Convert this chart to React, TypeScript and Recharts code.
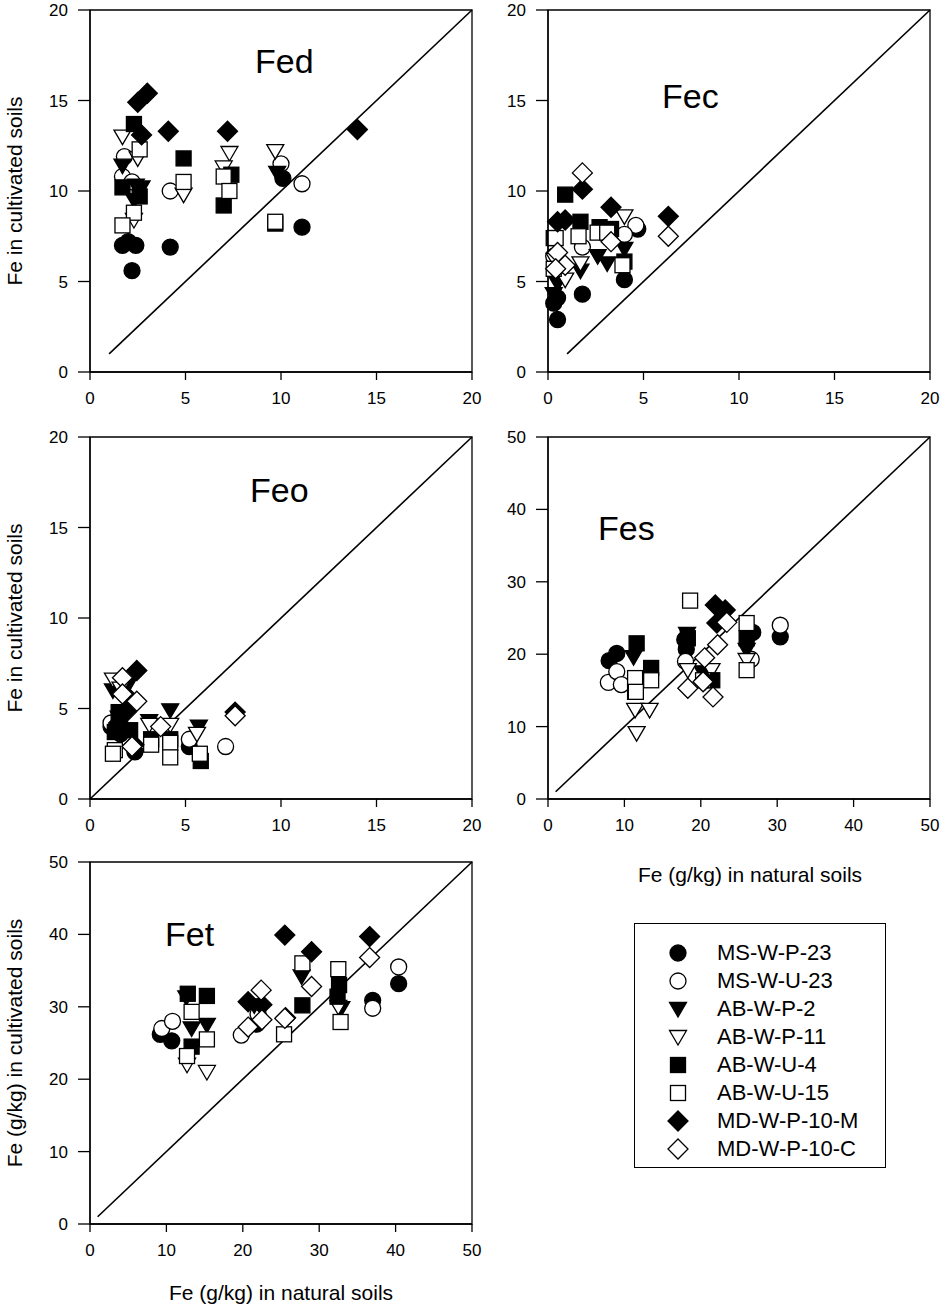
import React from 'react';
import { ScatterChart, Scatter, XAxis, YAxis, ReferenceLine, ReferenceArea } from 'recharts';

type XY = [number, number];

// series order (also draw order): MS-W-P-23, MS-W-U-23, AB-W-P-2, AB-W-P-11, AB-W-U-4, AB-W-U-15, MD-W-P-10-M, MD-W-P-10-C
const seriesNames = ['MS-W-P-23', 'MS-W-U-23', 'AB-W-P-2', 'AB-W-P-11', 'AB-W-U-4', 'AB-W-U-15', 'MD-W-P-10-M', 'MD-W-P-10-C'];
const seriesKinds = ['circle', 'circle', 'triangle', 'triangle', 'square', 'square', 'diamond', 'diamond'];
const seriesFilled = [true, false, true, false, true, false, true, false];

const ticks20 = [0, 5, 10, 15, 20];
const ticks50 = [0, 10, 20, 30, 40, 50];

// --- Fed
const fedMSWP23: XY[] = [[1.7, 7.0], [2.0, 7.2], [2.4, 7.0], [2.2, 5.6], [4.2, 6.9], [10.1, 10.7], [11.1, 8.0]];
const fedMSWU23: XY[] = [[1.8, 11.9], [1.7, 10.8], [2.2, 10.5], [4.2, 10.0], [10.0, 11.5], [11.1, 10.4]];
const fedABWP2: XY[] = [[1.7, 11.4], [2.4, 10.3], [2.3, 9.5], [2.7, 10.2], [7.3, 10.9], [9.8, 11.0]];
const fedABWP11: XY[] = [[1.7, 13.0], [2.5, 11.8], [2.3, 8.4], [4.9, 9.8], [7.3, 12.1], [7.0, 11.3], [9.7, 12.2]];
const fedABWU4: XY[] = [[2.3, 13.7], [1.7, 10.2], [2.6, 9.7], [4.9, 11.8], [7.0, 9.2], [7.4, 10.9], [9.7, 8.2]];
const fedABWU15: XY[] = [[2.6, 12.3], [2.3, 8.8], [1.7, 8.1], [4.9, 10.5], [7.0, 10.8], [7.3, 10.0], [9.7, 8.3]];
const fedMDWP10M: XY[] = [[3.0, 15.4], [2.5, 14.9], [2.7, 13.1], [4.1, 13.3], [7.2, 13.3], [14.0, 13.4]];
const fedMDWP10C: XY[] = [];

// --- Fec
const fecMSWP23: XY[] = [[4.0, 5.1], [1.8, 4.3], [0.5, 4.1], [0.5, 2.9], [4.7, 7.9], [0.3, 3.8]];
const fecMSWU23: XY[] = [[4.6, 8.1], [4.0, 7.6], [1.8, 6.9], [0.3, 6.4]];
const fecABWP2: XY[] = [[2.6, 6.4], [3.1, 6.0], [4.0, 6.8], [1.7, 5.6], [0.5, 4.9], [0.3, 4.3]];
const fecABWP11: XY[] = [[4.0, 8.6], [1.7, 6.0], [0.9, 5.1], [0.35, 6.2]];
const fecABWU4: XY[] = [[0.9, 9.8], [1.7, 8.3], [2.7, 8.0], [3.3, 7.9], [4.0, 6.1], [0.3, 7.4]];
const fecABWU15: XY[] = [[1.6, 7.5], [2.6, 7.7], [3.1, 7.7], [3.9, 5.9], [0.4, 7.4], [0.3, 5.7]];
const fecMDWP10M: XY[] = [[1.8, 10.1], [3.3, 9.1], [6.3, 8.6], [0.5, 8.3], [0.9, 8.4]];
const fecMDWP10C: XY[] = [[1.8, 11.0], [6.3, 7.5], [3.3, 7.2], [0.5, 6.6], [0.9, 5.9], [0.4, 5.7]];

// --- Feo
const feoMSWP23: XY[] = [[2.35, 2.6], [5.2, 2.9], [1.1, 4.0], [1.6, 3.6]];
const feoMSWU23: XY[] = [[1.1, 4.2], [5.2, 3.3], [7.1, 2.9], [1.5, 3.9]];
const feoABWP2: XY[] = [[1.2, 6.0], [1.5, 4.5], [3.1, 4.3], [4.2, 4.9], [5.7, 4.0], [2.0, 6.3]];
const feoABWP11: XY[] = [[1.2, 6.6], [1.6, 6.1], [3.1, 4.1], [4.2, 4.1], [5.6, 3.6], [1.5, 3.6]];
const feoABWU4: XY[] = [[1.3, 3.7], [2.1, 3.8], [3.2, 3.3], [4.2, 3.3], [5.8, 2.1], [1.5, 4.8]];
const feoABWU15: XY[] = [[1.3, 2.7], [1.2, 2.5], [3.2, 3.0], [4.2, 3.1], [4.2, 2.3], [5.75, 2.5]];
const feoMDWP10M: XY[] = [[2.45, 7.1], [7.6, 4.8], [1.9, 4.8], [2.1, 5.5], [1.5, 4.2], [2.3, 3.0]];
const feoMDWP10C: XY[] = [[1.7, 6.7], [1.7, 5.8], [2.45, 5.4], [2.2, 2.9], [3.7, 4.0], [7.6, 4.6]];

// --- Fes
const fesMSWP23: XY[] = [[8.0, 19.1], [9.0, 20.1], [18.1, 20.7], [17.9, 22.0], [26.8, 23.0], [30.4, 22.4]];
const fesMSWU23: XY[] = [[7.9, 16.1], [9.0, 17.6], [9.6, 15.8], [18.0, 19.0], [26.6, 19.3], [30.4, 24.0]];
const fesABWP2: XY[] = [[11.2, 19.6], [18.2, 22.8], [26.0, 20.6], [20.2, 17.5]];
const fesABWP11: XY[] = [[11.4, 12.3], [13.3, 12.3], [11.6, 9.1], [18.3, 17.8], [26.0, 19.2], [21.4, 17.8]];
const fesABWU4: XY[] = [[11.6, 21.5], [13.5, 18.1], [18.3, 22.2], [26.0, 22.2], [11.4, 14.8], [21.5, 16.4]];
const fesABWU15: XY[] = [[18.6, 27.4], [11.4, 16.7], [13.5, 16.4], [11.5, 14.8], [26.0, 24.3], [26.0, 17.8], [20.3, 16.4]];
const fesMDWP10M: XY[] = [[21.9, 26.8], [23.2, 26.1], [22.1, 24.3], [20.5, 16.4]];
const fesMDWP10C: XY[] = [[23.4, 24.4], [22.2, 21.3], [20.5, 19.5], [18.3, 15.3], [21.6, 14.1], [20.3, 16.2]];

// --- Fet
const fetMSWP23: XY[] = [[9.2, 26.2], [10.7, 25.3], [21.8, 27.6], [37.0, 30.9], [40.4, 33.2]];
const fetMSWU23: XY[] = [[9.4, 27.0], [10.8, 28.0], [19.8, 26.1], [22.0, 29.0], [37.0, 29.8], [40.4, 35.5]];
const fetABWP2: XY[] = [[12.6, 31.3], [13.3, 27.0], [15.3, 27.5], [27.7, 34.2], [32.9, 29.8], [21.5, 30.2]];
const fetABWP11: XY[] = [[12.7, 22.0], [15.3, 21.0], [32.5, 30.0]];
const fetABWU4: XY[] = [[12.8, 31.8], [15.3, 31.5], [13.3, 24.5], [27.8, 30.2], [32.6, 33.0], [32.4, 31.4]];
const fetABWU15: XY[] = [[13.3, 29.3], [15.3, 25.5], [12.7, 23.2], [25.4, 26.2], [27.8, 36.0], [32.5, 35.2], [32.8, 27.9]];
const fetMDWP10M: XY[] = [[25.5, 39.9], [29.0, 37.6], [36.6, 39.7], [20.7, 30.7], [22.5, 30.3], [25.6, 28.5]];
const fetMDWP10C: XY[] = [[36.6, 36.8], [29.0, 32.8], [22.4, 32.3], [22.5, 28.2], [20.7, 27.2], [25.5, 28.4]];

const FONT = 'Arial, "Liberation Sans", Helvetica, sans-serif';

function Marker({ cx, cy, kind, filled }: { cx: number; cy: number; kind: string; filled: boolean }) {
  const fill = filled ? '#000' : '#fff';
  const common = { fill, stroke: '#000', strokeWidth: 1.3 };
  if (cx == null || cy == null) return null;
  switch (kind) {
    case 'circle':
      return <circle cx={cx} cy={cy} r={8} {...common} />;
    case 'triangle':
      return <polygon points={`${cx - 8.5},${cy - 6.5} ${cx + 8.5},${cy - 6.5} ${cx},${cy + 8}`} {...common} />;
    case 'square':
      return <rect x={cx - 7.5} y={cy - 7.5} width={15} height={15} {...common} />;
    default:
      return <polygon points={`${cx},${cy - 10} ${cx + 10},${cy} ${cx},${cy + 10} ${cx - 10},${cy}`} {...common} />;
  }
}

interface PanelProps {
  left: number;
  top: number;
  max: number;
  ticks: number[];
  lineFrom: number;
  series: XY[][];
}

function Panel({ left, top, max, ticks, lineFrom, series }: PanelProps) {
  const tickStyle = { fill: '#000', fontSize: 17, fontFamily: FONT };
  return (
    <div style={{ position: 'absolute', left, top }}>
      <ScatterChart width={482} height={412} margin={{ top: 10, right: 10, bottom: 0, left: 0 }}>
        <XAxis
          type="number"
          dataKey="x"
          domain={[0, max]}
          ticks={ticks}
          height={40}
          tickSize={8}
          tickMargin={12}
          tick={tickStyle}
          axisLine={{ stroke: '#000', strokeWidth: 1.3 }}
          tickLine={{ stroke: '#000', strokeWidth: 1.3 }}
        />
        <YAxis
          type="number"
          dataKey="y"
          domain={[0, max]}
          ticks={ticks}
          width={90}
          tickSize={12}
          tickMargin={10}
          tick={tickStyle}
          axisLine={{ stroke: '#000', strokeWidth: 1.3 }}
          tickLine={{ stroke: '#000', strokeWidth: 1.3 }}
        />
        <ReferenceArea x1={0} x2={max} y1={0} y2={max} fill="none" stroke="#000" strokeWidth={1.3} />
        <ReferenceLine
          segment={[{ x: lineFrom, y: lineFrom }, { x: max, y: max }]}
          stroke="#000"
          strokeWidth={1.6}
        />
        {series.map((s, i) => (
          <Scatter
            key={seriesNames[i]}
            name={seriesNames[i]}
            data={s.map(([x, y]) => ({ x, y }))}
            isAnimationActive={false}
            shape={(p: any) => <Marker cx={p.cx} cy={p.cy} kind={seriesKinds[i]} filled={seriesFilled[i]} />}
          />
        ))}
      </ScatterChart>
    </div>
  );
}

function Text({ x, y, size, children, rotate, center }: { x: number; y: number; size: number; children: React.ReactNode; rotate?: boolean; center?: boolean }) {
  // x,y: left/baseline, or centre when center/rotate
  const style: React.CSSProperties = {
    position: 'absolute',
    fontFamily: FONT,
    fontSize: size,
    lineHeight: 1,
    whiteSpace: 'nowrap',
    color: '#000',
  };
  if (rotate) {
    return <div style={{ ...style, left: x, top: y, transform: 'translate(-50%, -50%) rotate(-90deg)' }}>{children}</div>;
  }
  if (center) {
    return <div style={{ ...style, left: x, top: y, transform: 'translate(-50%, -50%)' }}>{children}</div>;
  }
  return <div style={{ ...style, left: x, top: y - 0.8465 * size }}>{children}</div>;
}

function LegendBox() {
  return (
    <div
      style={{
        position: 'absolute',
        left: 634,
        top: 923,
        width: 252,
        height: 245,
        border: '1.3px solid #000',
        boxSizing: 'border-box',
        fontFamily: FONT,
      }}
    >
      {seriesNames.map((n, i) => (
        <div key={n} style={{ position: 'absolute', left: 0, top: 17 + i * 28, height: 24, display: 'flex', alignItems: 'center' }}>
          <svg width={24} height={24} style={{ position: 'absolute', left: 31 }}>
            <Marker cx={12} cy={12} kind={seriesKinds[i]} filled={seriesFilled[i]} />
          </svg>
          <span style={{ position: 'absolute', left: 82, fontSize: 22, whiteSpace: 'nowrap', lineHeight: '24px' }}>{n}</span>
        </div>
      ))}
    </div>
  );
}

export default function App() {
  return (
    <div style={{ position: 'absolute', left: 0, top: 0, width: 946, height: 1306, background: '#fff', overflow: 'hidden' }}>
      <Panel left={0} top={0} max={20} ticks={ticks20} lineFrom={1}
        series={[fedMSWP23, fedMSWU23, fedABWP2, fedABWP11, fedABWU4, fedABWU15, fedMDWP10M, fedMDWP10C]} />
      <Panel left={458} top={0} max={20} ticks={ticks20} lineFrom={1}
        series={[fecMSWP23, fecMSWU23, fecABWP2, fecABWP11, fecABWU4, fecABWU15, fecMDWP10M, fecMDWP10C]} />
      <Panel left={0} top={427} max={20} ticks={ticks20} lineFrom={0}
        series={[feoMSWP23, feoMSWU23, feoABWP2, feoABWP11, feoABWU4, feoABWU15, feoMDWP10M, feoMDWP10C]} />
      <Panel left={458} top={427} max={50} ticks={ticks50} lineFrom={1}
        series={[fesMSWP23, fesMSWU23, fesABWP2, fesABWP11, fesABWU4, fesABWU15, fesMDWP10M, fesMDWP10C]} />
      <Panel left={0} top={852} max={50} ticks={ticks50} lineFrom={1}
        series={[fetMSWP23, fetMSWU23, fetABWP2, fetABWP11, fetABWU4, fetABWU15, fetMDWP10M, fetMDWP10C]} />

      <Text x={255} y={73} size={34}>Fed</Text>
      <Text x={662} y={108} size={34}>Fec</Text>
      <Text x={250} y={502} size={34}>Feo</Text>
      <Text x={598} y={540} size={34}>Fes</Text>
      <Text x={165} y={946} size={34}>Fet</Text>

      <Text x={14} y={191} size={21} rotate>Fe in cultivated soils</Text>
      <Text x={14} y={618} size={21} rotate>Fe in cultivated soils</Text>
      <Text x={14} y={1043} size={21} rotate>Fe (g/kg) in cultivated soils</Text>
      <Text x={750} y={874} size={21} center>Fe (g/kg) in natural soils</Text>
      <Text x={281} y={1292} size={21} center>Fe (g/kg) in natural soils</Text>

      <LegendBox />
    </div>
  );
}
